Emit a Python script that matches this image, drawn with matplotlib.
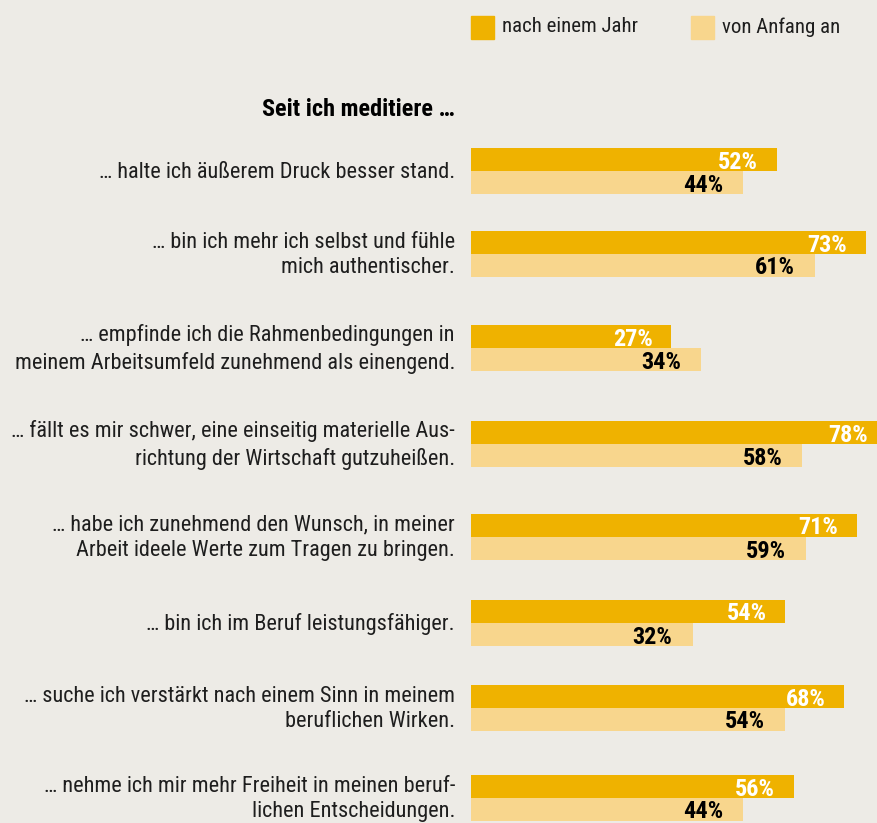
import numpy as np
import matplotlib
matplotlib.use("Agg")
import matplotlib.pyplot as plt
from matplotlib.patches import Rectangle

# data
statements = [
    "… halte ich äußerem Druck besser stand.",
    "… bin ich mehr ich selbst und fühle\nmich authentischer.",
    "… empfinde ich die Rahmenbedingungen in\nmeinem Arbeitsumfeld zunehmend als einengend.",
    "… fällt es mir schwer, eine einseitig materielle Aus-\nrichtung der Wirtschaft gutzuheißen.",
    "… habe ich zunehmend den Wunsch, in meiner\nArbeit ideele Werte zum Tragen zu bringen.",
    "… bin ich im Beruf leistungsfähiger.",
    "… suche ich verstärkt nach einem Sinn in meinem\nberuflichen Wirken.",
    "… nehme ich mir mehr Freiheit in meinen beruf-\nlichen Entscheidungen.",
]
after_one_year = [52, 73, 27, 78, 71, 54, 68, 56]
from_start = [44, 61, 34, 58, 59, 32, 54, 44]
series_names = ["nach einem Jahr", "von Anfang an"]
title = "Seit ich meditiere …"

# layout (pixels of an 878 x 823 canvas)
W, H = 878, 823
group_top = [148, 231, 325, 421, 514, 600, 685, 775]
bar_h = 23
base = 20.5          # bars start a bit "before" zero in the original
px_per_pct = 4.22
x0 = 471

bg = "#EDEBE6"
dark = "#EFB200"
light = "#F8D68D"
txt = "#1E1E1E"
font = ["Roboto Condensed", "DejaVu Sans"]

fig = plt.figure(figsize=(W / 100, H / 100), dpi=100, facecolor=bg)
ax = fig.add_axes([x0 / W, 0, (W - x0) / W, 1])
ax.set_facecolor(bg)
ax.set_xlim(-base, -base + (W - x0) / px_per_pct)
ax.set_ylim(H, 0)
ax.axis("off")

top = np.array(group_top)
a = np.array(after_one_year)
s = np.array(from_start)
ax.barh(top + bar_h / 2, a + base, left=-base, height=bar_h, color=dark)
ax.barh(top + bar_h * 1.5, s + base, left=-base, height=bar_h, color=light)

for yt, va_, vs in zip(top, a, s):
    ax.annotate(f"{va_}%", (va_, yt + bar_h / 2), xytext=(-13.5, 0), textcoords="offset points",
                ha="right", va="center_baseline", fontsize=17.5, fontweight="bold",
                color="white", family=font, annotation_clip=False)
    ax.annotate(f"{vs}%", (vs, yt + bar_h * 1.5), xytext=(-14.4, 0), textcoords="offset points",
                ha="right", va="center_baseline", fontsize=17.5, fontweight="bold",
                color="black", family=font, annotation_clip=False)

# category labels in figure pixel coordinates
for yt, lab in zip(top, statements):
    fig.text(455 / W, 1 - (yt + bar_h + 1) / H, lab, ha="right", va="center",
             fontsize=16, color=txt, family=font, linespacing=1.3)

fig.text(455 / W, 1 - 110 / H, title, ha="right", va="center",
         fontsize=17.5, fontweight="bold", color="black", family=font)

# legend
for lx, name, col in [(471, series_names[0], dark), (691, series_names[1], light)]:
    fig.patches.append(Rectangle((lx / W, 1 - 39 / H), 23 / W, 23 / H,
                                 transform=fig.transFigure, color=col))
    fig.text((lx + 31) / W, 1 - 27 / H, name, ha="left", va="center",
             fontsize=15, color=txt, family=font)

fig.savefig("out.png", dpi=100, facecolor=bg)
